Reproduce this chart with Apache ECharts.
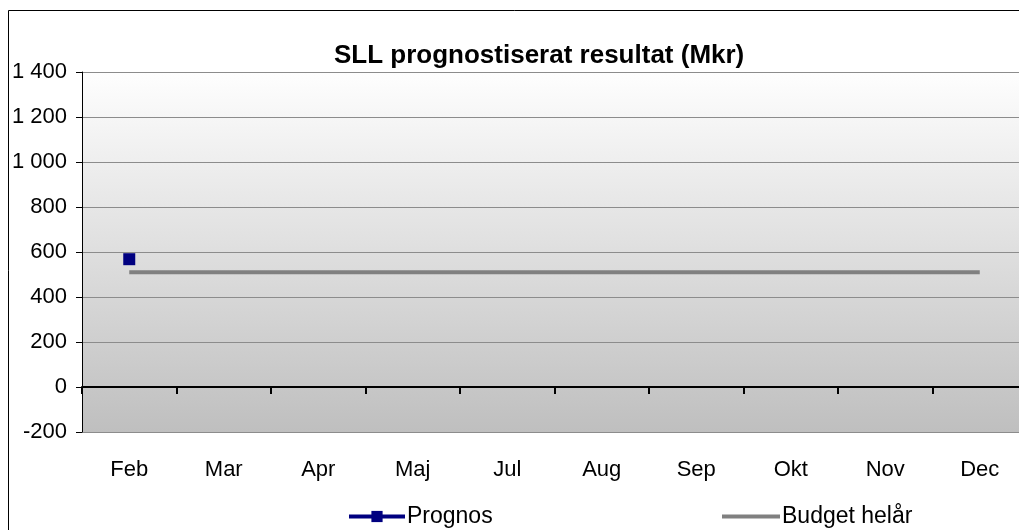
<!DOCTYPE html>
<html>
<head>
<meta charset="utf-8">
<script src="https://cdn.jsdelivr.net/npm/echarts@6/dist/echarts.min.js"></script>
<style>
  html, body { margin: 0; padding: 0; background: #fff; }
  #main { width: 1019px; height: 530px; }
</style>
</head>
<body>
<div id="main"></div>
<script>
// chart data
var months = ['Feb', 'Mar', 'Apr', 'Maj', 'Jul', 'Aug', 'Sep', 'Okt', 'Nov', 'Dec'];
var prognos = [568, null, null, null, null, null, null, null, null, null];
var budget = [510, 510, 510, 510, 510, 510, 510, 510, 510, 510];
var yTicks = [-200, 0, 200, 400, 600, 800, 1000, 1200, 1400];

function fmt(v) {
    // swedish thousands separator
    var s = String(Math.abs(v)).replace(/\B(?=(\d{3})+(?!\d))/g, ' ');
    return (v < 0 ? '-' : '') + s;
}

var font = 'Liberation Sans, Arial, sans-serif';
var chart = echarts.init(document.getElementById('main'));

chart.setOption({
    animation: false,
    textStyle: { fontFamily: font },
    title: {
        text: 'SLL prognostiserat resultat (Mkr)',
        left: 329,
        top: 38,
        textStyle: { fontSize: 26, fontWeight: 'bold', color: '#000', fontFamily: font }
    },
    graphic: [{
        type: 'rect',
        shape: { x: 8.5, y: 10.5, width: 1100, height: 600 },
        style: { fill: 'none', stroke: '#000', lineWidth: 1 },
        z: 100
    }],
    legend: [{
        data: ['Prognos'],
        left: 342,
        top: 500,
        itemWidth: 56,
        itemHeight: 14,
        itemGap: 0,
        lineStyle: { width: 4 },
        textStyle: { fontSize: 23, color: '#000', padding: [0, 0, 0, -3] }
    }, {
        data: [{ name: 'Budget helår', icon: 'rect' }],
        left: 717,
        top: 500,
        itemWidth: 58,
        itemHeight: 4,
        textStyle: { fontSize: 23, color: '#000', padding: [0, 0, 0, -3] }
    }],
    grid: {
        left: 82,
        top: 72,
        width: 945,
        bottom: 98,
        outerBoundsMode: 'none',
        containLabel: false,
        show: true,
        borderWidth: 0,
        backgroundColor: new echarts.graphic.LinearGradient(0, 0, 0, 1, [
            { offset: 0, color: '#fefefe' },
            { offset: 1, color: '#bfbfbf' }
        ])
    },
    xAxis: [{
        type: 'category',
        data: months,
        boundaryGap: true,
        axisLine: { onZero: true, lineStyle: { color: '#000', width: 2 } },
        axisTick: { show: true, length: 7, lineStyle: { color: '#000', width: 2 } },
        axisLabel: { show: false },
        splitLine: { show: false }
    }, {
        type: 'category',
        data: months,
        position: 'bottom',
        boundaryGap: true,
        axisLine: { show: false, onZero: false },
        axisTick: { show: false },
        axisLabel: { margin: 27, fontSize: 22, color: '#000' }
    }],
    yAxis: {
        type: 'value',
        min: yTicks[0],
        max: yTicks[yTicks.length - 1],
        interval: 200,
        axisLine: { show: true, lineStyle: { color: '#000', width: 1 } },
        axisTick: { show: true, length: 6, lineStyle: { color: '#000' } },
        axisLabel: { fontSize: 22, color: '#000', margin: 15, formatter: fmt },
        splitLine: { show: true, lineStyle: { color: '#8c8c8c', width: 1 } }
    },
    series: [{
        name: 'Prognos',
        type: 'line',
        data: prognos,
        symbol: 'rect',
        symbolSize: 12,
        color: '#000080',
        lineStyle: { color: '#000080', width: 3 },
        itemStyle: { color: '#000080' },
        z: 5
    }, {
        name: 'Budget helår',
        type: 'line',
        data: budget,
        symbol: 'none',
        color: '#808080',
        lineStyle: { color: '#808080', width: 4 }
    }]
});
</script>
</body>
</html>
